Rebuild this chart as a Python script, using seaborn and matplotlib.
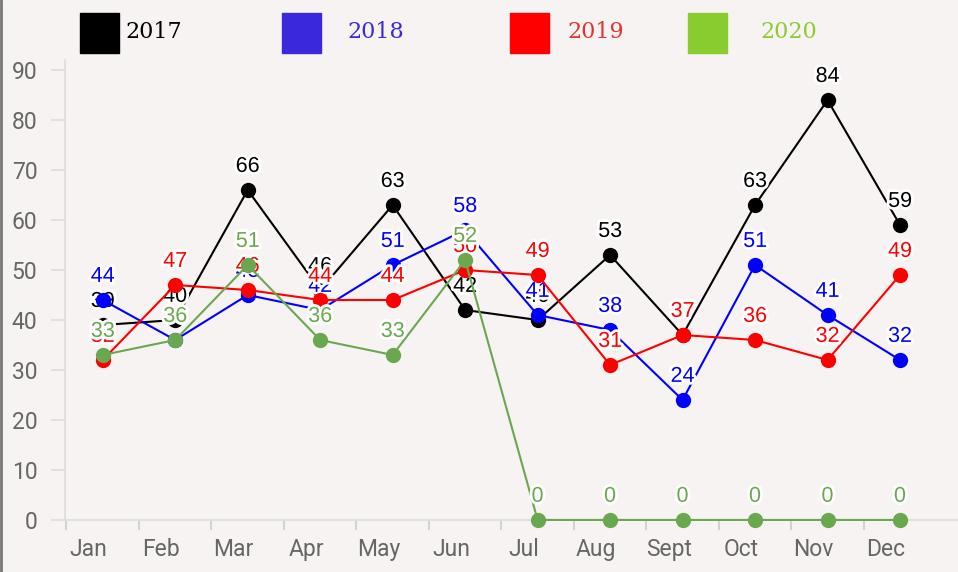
import numpy as np
import pandas as pd
import seaborn as sns
import matplotlib.pyplot as plt
import matplotlib.patheffects as pe
from matplotlib.lines import Line2D
from matplotlib.patches import Rectangle
from matplotlib.transforms import ScaledTranslation

months = ["Jan", "Feb", "Mar", "Apr", "May", "Jun", "Jul", "Aug", "Sept", "Oct", "Nov", "Dec"]
years = ["2017", "2018", "2019", "2020"]
v2017 = [39, 40, 66, 46, 63, 42, 40, 53, 37, 63, 84, 59]
v2018 = [44, 36, 45, 42, 51, 58, 41, 38, 24, 51, 41, 32]
v2019 = [32, 47, 46, 44, 44, 50, 49, 31, 37, 36, 32, 49]
v2020 = [33, 36, 51, 36, 33, 52, 0, 0, 0, 0, 0, 0]

line_colors = {"2017": "#000000", "2018": "#0000ff", "2019": "#ff0000", "2020": "#6aa84f"}
legend_square = {"2017": "#000000", "2018": "#3a28dc", "2019": "#ff0000", "2020": "#88cc30"}
legend_text = {"2017": "#000000", "2018": "#3b2bdb", "2019": "#e03535", "2020": "#8ccc33"}

df = pd.DataFrame({
    "month": months * 4,
    "pos": list(range(12)) * 4,
    "value": v2017 + v2018 + v2019 + v2020,
    "year": [y for y in years for _ in months],
})

sns.set_theme(style="white")
plt.rcParams["font.family"] = ["Roboto", "DejaVu Sans"]
bg = "#f7f3f2"

fig = plt.figure(figsize=(9.58, 5.72), dpi=100, facecolor=bg)
ax = fig.add_axes([0.0679, 0.091, 0.9321, 0.804], facecolor=bg)

halo = [pe.withStroke(linewidth=4, foreground="white")]
for i, yr in enumerate(years):
    sub = df[df["year"] == yr]
    sns.lineplot(data=sub, x="pos", y="value", ax=ax, color=line_colors[yr],
                 marker="o", markersize=11, markeredgewidth=0, linewidth=1.5,
                 zorder=2 + i, legend=False, clip_on=False)
    for _, r in sub.iterrows():
        ax.annotate(str(r["value"]), (r["pos"], r["value"]), xytext=(0, 17),
                    textcoords="offset points", ha="center", va="center",
                    fontsize=15.5, family=["Liberation Sans", "DejaVu Sans"],
                    color=line_colors[yr], path_effects=halo, zorder=2.5 + i)

ax.set_xlim(-0.52, 11.8)
ax.set_ylim(0, 92)
ax.set_xticks(range(12))
ax.set_xticklabels(months)
ax.set_xticks(np.arange(-0.5, 11, 1), minor=True)
ax.set_yticks(range(0, 91, 10))
ax.tick_params(axis="x", which="major", length=0, pad=13, labelsize=16.5, labelcolor="#666666")
ax.tick_params(axis="x", which="minor", length=7, color="#cccccc", width=1.2, bottom=True)
ax.tick_params(axis="y", length=10, color="#dddddd", width=1.2, left=True, labelsize=16.5,
               labelcolor="#666666", pad=10)
# month labels sit slightly left of their points
shift = ScaledTranslation(-14 / 100, 0, fig.dpi_scale_trans)
for lbl in ax.get_xticklabels():
    lbl.set_transform(lbl.get_transform() + shift)
ax.set_xlabel("")
ax.set_ylabel("")
for s in ["top", "right"]:
    ax.spines[s].set_visible(False)
for s in ["left", "bottom"]:
    ax.spines[s].set_color("#dddddd")
    ax.spines[s].set_linewidth(1.2)

# legend along the top
leg_pos = {"2017": (80, 125), "2018": (282, 347), "2019": (510, 567), "2020": (688, 760)}
W, H = 958, 572
for yr in years:
    sx, tx = leg_pos[yr]
    fig.add_artist(Rectangle((sx / W, 1 - 53 / H), 39 / W, 40 / H,
                             transform=fig.transFigure, color=legend_square[yr]))
    fig.text(tx / W, 1 - 32 / H, yr, color=legend_text[yr], fontsize=16,
             family="DejaVu Serif", va="center", ha="left")

fig.add_artist(Line2D([0.001, 0.001], [0, 1], transform=fig.transFigure,
                      color="#777777", linewidth=2))

fig.savefig("out.png", dpi=100, facecolor=bg)
